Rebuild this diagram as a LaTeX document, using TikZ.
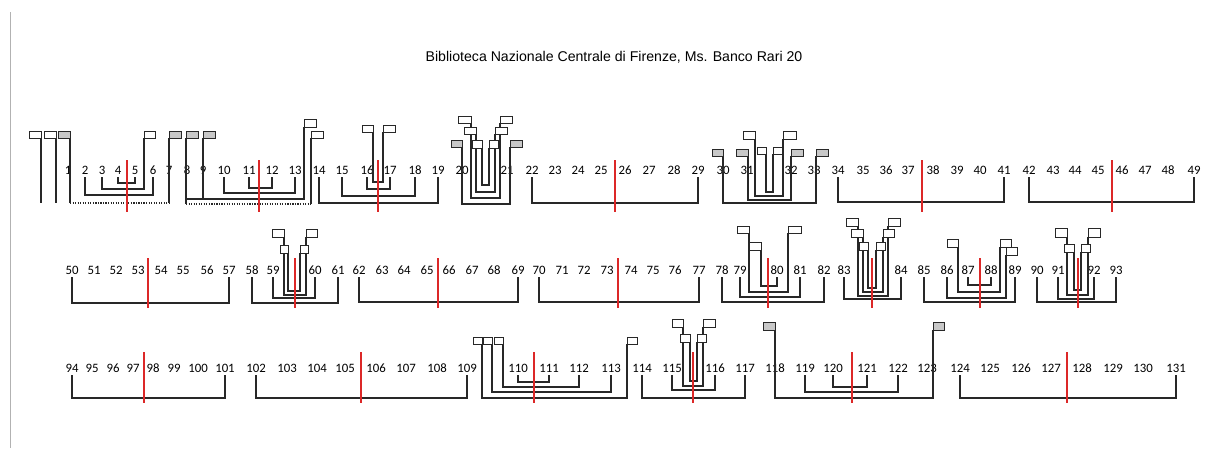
\documentclass[tikz,border=0pt]{standalone}
\usepackage{fontspec}
\setmainfont{Carlito}
\newfontfamily\titlefont{Liberation Sans}
\usepackage{tikz}
\definecolor{stubgray}{RGB}{200,200,200}
\definecolor{cutred}{RGB}{220,40,40}
\definecolor{inkgray}{RGB}{40,40,40}
\usetikzlibrary{calc}
% leaf a to leaf b, bottom y, top y
\newcommand{\pairline}[4]{\draw[leafline] (n#1 |- 0,#4) |- (n#2 |- 0,#3) -- (n#2 |- 0,#4);}
% stub pair: x left, x right, bottom y, top y
\newcommand{\ushape}[4]{\draw[leafline] (#1,#4) |- (#2,#3) -- (#2,#4);}
% stub box: x1, y1, x2, y2, fill
\newcommand{\stub}[5]{\draw[stubbox, fill=#5] (#1,#2) rectangle (#3,#4);}

\begin{document}
\begin{tikzpicture}[x=0.75pt, y=-0.75pt,
    leafline/.style={draw=inkgray, line width=0.9pt},
    dotline/.style={draw=inkgray, line width=0.9pt, densely dotted},
    stubbox/.style={draw=inkgray, line width=0.7pt},
    cutline/.style={draw=cutred, line width=0.9pt},
    leaflabel/.style={font=\fontsize{9.6}{11}\selectfont, inner sep=0pt}]
    \useasboundingbox[fill=white] (0,0) rectangle (1207,451);
    \draw[gray!60, line width=0.5pt] (10,12) -- (10,448);

    % title
    \node[font=\titlefont\fontsize{10.6}{13}\selectfont] (title) at (614,57)
        {Biblioteca Nazionale Centrale di Firenze, Ms. Banco Rari 20};

    % leaf numbers
    \foreach \n/\x in {1/68, 2/85, 3/102, 4/118, 5/135, 6/153, 7/169, 8/187,
        9/203, 10/224, 11/249, 12/272, 13/295, 14/319, 15/342, 16/367, 17/390,
        18/415, 19/438, 20/462, 21/507, 22/532, 23/555, 24/578, 25/601, 26/625,
        27/649, 28/674, 29/698, 30/723, 31/747, 32/791, 33/814, 34/838, 35/863,
        36/886, 37/908, 38/933, 39/957, 40/980, 41/1004, 42/1029, 43/1053,
        44/1075, 45/1098, 46/1122, 47/1145, 48/1168, 49/1194}
        \node[leaflabel] (n\n) at (\x,170) {\n};
    \foreach \n/\x in {50/72, 51/94, 52/116, 53/138, 54/161, 55/183, 56/207,
        57/229, 58/252, 59/273, 60/315, 61/338, 62/359, 63/382, 64/404, 65/427,
        66/449, 67/472, 68/494, 69/518, 70/539, 71/562, 72/584, 73/607, 74/631,
        75/653, 76/675, 77/699, 78/722, 79/740, 80/777, 81/800, 82/824, 83/844,
        84/901, 85/924, 86/947, 87/968, 88/991, 89/1015, 90/1037, 91/1058,
        92/1094, 93/1116}
        \node[leaflabel] (n\n) at (\x,270) {\n};
    \foreach \n/\x in {94/72, 95/92, 96/113, 97/133, 98/153, 99/174, 100/198,
        101/225, 102/256, 103/287, 104/317, 105/345, 106/376, 107/406, 108/437,
        109/467, 110/518, 111/549, 112/579, 113/611, 114/642, 115/672, 116/715,
        117/745, 118/775, 119/805, 120/833, 121/867, 122/898, 123/927, 124/960,
        125/990, 126/1021, 127/1051, 128/1082, 129/1113, 130/1143, 131/1176}
        \node[leaflabel] (n\n) at (\x,368) {\n};

    % row 1
    \draw[leafline] (41,138) -- (41,203);
    \draw[leafline] (56,138) -- (56,203);
    \draw[leafline] (70,138) -- (70,203);
    \draw[dotline] (70,203) -- (169,203);
    \draw[leafline] (169,203) -- (169,138);
    \pairline{2}{6}{195}{177}
    \draw[leafline] (n3 |- 0,177) |- (144,189) -- (144,138);
    \pairline{4}{5}{183}{177}
    \draw[leafline] (186,138) -- (186,204);
    \draw[leafline] (203,138) -- (203,199);
    \draw[leafline] (186,199) -| (304,127);
    \draw[dotline] (186,204) -- (311,204);
    \draw[leafline] (311,204) -- (311,138);
    \pairline{10}{13}{193}{177}
    \pairline{11}{12}{188}{177}
    \pairline{14}{19}{203}{177}
    \pairline{15}{18}{196}{177}
    \pairline{16}{17}{189}{177}
    \ushape{373}{383}{182}{132}
    \ushape{462}{510}{204}{147}
    \ushape{471}{500}{198}{123}
    \ushape{476}{495}{192}{134}
    \ushape{482}{489}{185}{148}
    \pairline{22}{29}{203}{177}
    \ushape{723}{816}{203}{156}
    \ushape{748}{791}{200}{156}
    \ushape{755}{783}{196}{139}
    \ushape{766}{773}{192}{154}
    \pairline{34}{41}{202}{177}
    \pairline{42}{49}{202}{177}

    % row 2
    \pairline{50}{57}{303}{277}
    \pairline{58}{61}{303}{277}
    \pairline{59}{60}{298}{277}
    \ushape{284}{306}{295}{237}
    \ushape{288}{300}{291}{253}
    \pairline{62}{69}{302}{277}
    \pairline{70}{77}{302}{277}
    \pairline{78}{82}{302}{277}
    \pairline{79}{81}{297}{277}
    \ushape{749}{788}{292}{233}
    \draw[leafline] (761,250) |- (n80 |- 0,286) -- (n80 |- 0,277);
    \pairline{83}{84}{299}{277}
    \ushape{858}{888}{296}{226}
    \ushape{863}{883}{292}{237}
    \ushape{868}{876}{288}{250}
    \pairline{85}{89}{302}{277}
    \draw[leafline] (n86 |- 0,277) |- (1006,298) -- (1006,255);
    \ushape{958}{1000}{292}{247}
    \pairline{87}{88}{285}{277}
    \pairline{90}{93}{302}{277}
    \pairline{91}{92}{299}{277}
    \ushape{1067}{1088}{295}{237}
    \ushape{1074}{1081}{290}{252}

    % row 3
    \pairline{94}{101}{398}{375}
    \pairline{102}{109}{398}{375}
    \draw[leafline] (482,344) |- (627,398) -- (627,344);
    \draw[leafline] (492,344) |- (n113 |- 0,392) -- (n113 |- 0,375);
    \draw[leafline] (503,344) |- (n112 |- 0,387) -- (n112 |- 0,375);
    \pairline{110}{111}{382}{375}
    \pairline{114}{117}{398}{375}
    \pairline{115}{116}{390}{375}
    \ushape{683}{703}{386}{327}
    \ushape{690}{697}{381}{342}
    \ushape{775}{933}{398}{330}
    \pairline{119}{122}{392}{375}
    \pairline{120}{121}{387}{375}
    \pairline{124}{131}{398}{375}

    % centre folds
    \foreach \x in {127,259,378,615,922,1112}
        \draw[cutline] (\x,160) -- (\x,212);
    \foreach \x in {148,295,438,618,768,872,980,1078}
        \draw[cutline] (\x,258) -- (\x,308);
    \foreach \x in {144,361,534,693,852,1067}
        \draw[cutline] (\x,352) -- (\x,403);

    % stubs
    \stub{29}{131}{41}{138}{white}
    \stub{44}{131}{56}{138}{white}
    \stub{58}{131}{70}{138}{stubgray}
    \stub{144}{131}{155}{138}{white}
    \stub{169}{131}{181}{138}{stubgray}
    \stub{186}{131}{198}{138}{stubgray}
    \stub{203}{131}{215}{138}{stubgray}
    \stub{304}{119}{316}{127}{white}
    \stub{311}{131}{323}{138}{white}
    \stub{362}{125}{373}{132}{white}
    \stub{383}{125}{395}{132}{white}
    \stub{451}{140}{462}{147}{stubgray}
    \stub{510}{140}{522}{147}{stubgray}
    \stub{458}{116}{471}{123}{white}
    \stub{500}{116}{512}{123}{white}
    \stub{464}{127}{476}{134}{white}
    \stub{495}{127}{507}{134}{white}
    \stub{472}{140}{482}{148}{white}
    \stub{489}{140}{498}{148}{white}
    \stub{712}{149}{723}{156}{stubgray}
    \stub{736}{149}{748}{156}{stubgray}
    \stub{791}{149}{803}{156}{stubgray}
    \stub{816}{149}{828}{156}{stubgray}
    \stub{743}{131}{755}{139}{white}
    \stub{783}{131}{796}{139}{white}
    \stub{757}{147}{766}{154}{white}
    \stub{773}{147}{782}{154}{white}
    \stub{272}{229}{284}{237}{white}
    \stub{306}{229}{317}{237}{white}
    \stub{280}{245}{288}{253}{white}
    \stub{300}{245}{308}{253}{white}
    \stub{737}{226}{749}{233}{white}
    \stub{788}{226}{801}{233}{white}
    \stub{749}{242}{761}{250}{white}
    \stub{846}{218}{858}{226}{white}
    \stub{888}{218}{900}{226}{white}
    \stub{851}{229}{863}{237}{white}
    \stub{883}{229}{894}{237}{white}
    \stub{859}{242}{868}{250}{white}
    \stub{876}{242}{885}{250}{white}
    \stub{947}{239}{958}{247}{white}
    \stub{1000}{239}{1011}{247}{white}
    \stub{1006}{247}{1017}{255}{white}
    \stub{1055}{228}{1067}{237}{white}
    \stub{1088}{228}{1100}{237}{white}
    \stub{1064}{244}{1074}{252}{white}
    \stub{1081}{244}{1090}{252}{white}
    \stub{473}{337}{482}{344}{white}
    \stub{483}{337}{492}{344}{white}
    \stub{494}{337}{503}{344}{white}
    \stub{627}{337}{637}{344}{white}
    \stub{672}{319}{683}{327}{white}
    \stub{703}{319}{715}{327}{white}
    \stub{680}{334}{690}{342}{white}
    \stub{697}{334}{706}{342}{white}
    \stub{763}{322}{775}{330}{stubgray}
    \stub{933}{322}{944}{330}{stubgray}
\end{tikzpicture}
\end{document}
